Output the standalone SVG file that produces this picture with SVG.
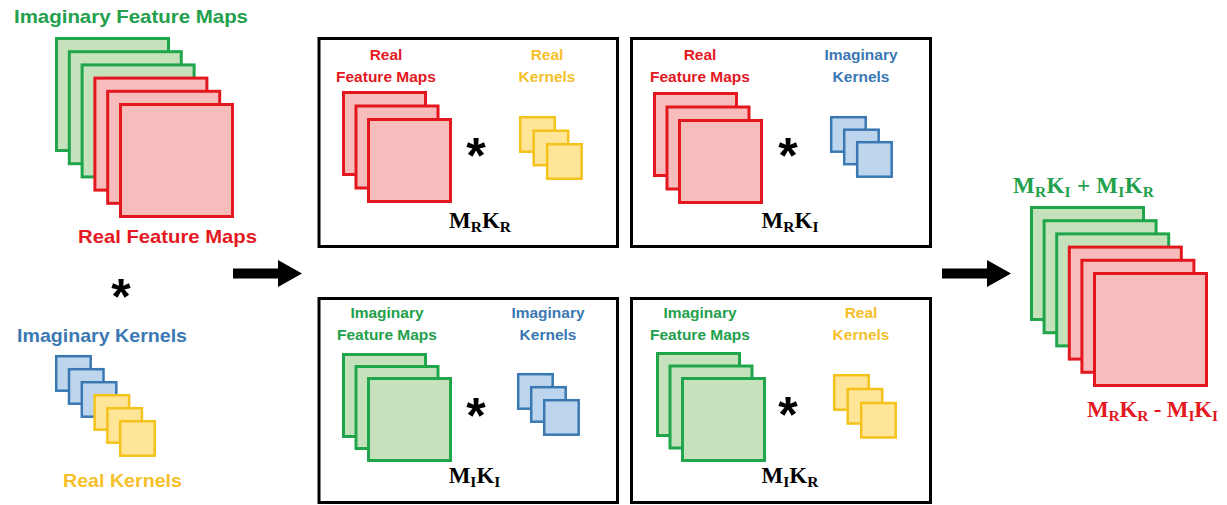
<svg xmlns="http://www.w3.org/2000/svg" width="1227" height="505" viewBox="0 0 1227 505">
<style>
.g{fill:#c5e2bc;stroke:#1fa64b;stroke-width:3}
.r{fill:#f9bcbc;stroke:#e3171e;stroke-width:3}
.b{fill:#bdd6ee;stroke:#3a78b4;stroke-width:2.5}
.y{fill:#ffe597;stroke:#f5c21c;stroke-width:2.5}
.box{fill:#fff;stroke:#000;stroke-width:3}
.lbl{font-family:"Liberation Sans",Arial,sans-serif;font-weight:bold}
.tg{fill:#22a04b}.tr{fill:#e3191f}.tb{fill:#3b78b3}.ty{fill:#f5c02a}
.m{font-family:"Liberation Serif","Times New Roman",serif;font-weight:bold;font-size:23px}
.sub{font-size:15.5px}
.ast{font-family:"Liberation Sans",Arial,sans-serif;font-weight:bold;fill:#000}
.arr{fill:#000}
</style>
<rect width="1227" height="505" fill="#fff"/>

<g id="input-feature-maps">
<text class="lbl tg" x="14" y="23" font-size="19" textLength="234" lengthAdjust="spacingAndGlyphs">Imaginary Feature Maps</text>
<rect class="g" x="56.5" y="38.5" width="112" height="112"/>
<rect class="g" x="69.3" y="51.7" width="112" height="112"/>
<rect class="g" x="82.1" y="64.9" width="112" height="112"/>
<rect class="r" x="94.9" y="78.1" width="112" height="112"/>
<rect class="r" x="107.7" y="91.3" width="112" height="112"/>
<rect class="r" x="120.5" y="104.5" width="112" height="112"/>
<text class="lbl tr" x="78" y="243" font-size="19" textLength="179" lengthAdjust="spacingAndGlyphs">Real Feature Maps</text>
</g>

<g id="input-asterisk">
<text class="ast" x="121" y="314" font-size="50" text-anchor="middle">*</text>
</g>

<g id="input-kernels">
<text class="lbl tb" x="17" y="342" font-size="19" textLength="170" lengthAdjust="spacingAndGlyphs">Imaginary Kernels</text>
<rect class="b" x="56.2" y="356.2" width="34.5" height="34.5"/>
<rect class="b" x="69" y="369.2" width="34.5" height="34.5"/>
<rect class="b" x="81.8" y="382.2" width="34.5" height="34.5"/>
<rect class="y" x="94.6" y="395.2" width="34.5" height="34.5"/>
<rect class="y" x="107.4" y="408.2" width="34.5" height="34.5"/>
<rect class="y" x="120.2" y="421.2" width="34.5" height="34.5"/>
<text class="lbl ty" x="63" y="487" font-size="19" textLength="119" lengthAdjust="spacingAndGlyphs">Real Kernels</text>
</g>

<g id="box-MRKR">
<rect class="box" x="319" y="38.5" width="298.5" height="208"/>
<text class="lbl tr" font-size="15.5" text-anchor="middle"><tspan x="386" y="60">Real</tspan><tspan x="386" y="82">Feature Maps</tspan></text>
<text class="lbl ty" font-size="15.5" text-anchor="middle"><tspan x="547" y="60">Real</tspan><tspan x="547" y="82">Kernels</tspan></text>
<rect class="r" x="343.5" y="92.5" width="82" height="82"/>
<rect class="r" x="356" y="106" width="82" height="82"/>
<rect class="r" x="368.5" y="119.5" width="82" height="82"/>
<text class="ast" x="476" y="173" font-size="50" text-anchor="middle">*</text>
<rect class="y" x="520.2" y="117.2" width="34.5" height="34.5"/>
<rect class="y" x="533.7" y="130.7" width="34.5" height="34.5"/>
<rect class="y" x="547.2" y="144.2" width="34.5" height="34.5"/>
<text class="m" x="480" y="228" text-anchor="middle">M<tspan class="sub" dy="4">R</tspan><tspan dy="-4">K</tspan><tspan class="sub" dy="4">R</tspan></text>
</g>

<g id="box-MRKI">
<rect class="box" x="631.5" y="38.5" width="299" height="208"/>
<text class="lbl tr" font-size="15.5" text-anchor="middle"><tspan x="700" y="60">Real</tspan><tspan x="700" y="82">Feature Maps</tspan></text>
<text class="lbl tb" font-size="15.5" text-anchor="middle"><tspan x="861" y="60">Imaginary</tspan><tspan x="861" y="82">Kernels</tspan></text>
<rect class="r" x="654.5" y="93.5" width="82" height="82"/>
<rect class="r" x="667" y="107" width="82" height="82"/>
<rect class="r" x="679.5" y="120.5" width="82" height="82"/>
<text class="ast" x="788" y="173" font-size="50" text-anchor="middle">*</text>
<rect class="b" x="831.2" y="117.2" width="34.5" height="34.5"/>
<rect class="b" x="844.2" y="129.7" width="34.5" height="34.5"/>
<rect class="b" x="857.2" y="142.2" width="34.5" height="34.5"/>
<text class="m" x="790" y="228" text-anchor="middle">M<tspan class="sub" dy="4">R</tspan><tspan dy="-4">K</tspan><tspan class="sub" dy="4">I</tspan></text>
</g>

<g id="box-MIKI">
<rect class="box" x="319" y="298.5" width="298.5" height="204"/>
<text class="lbl tg" font-size="15.5" text-anchor="middle"><tspan x="387" y="318">Imaginary</tspan><tspan x="387" y="340">Feature Maps</tspan></text>
<text class="lbl tb" font-size="15.5" text-anchor="middle"><tspan x="548" y="318">Imaginary</tspan><tspan x="548" y="340">Kernels</tspan></text>
<rect class="g" x="343.5" y="354.5" width="82" height="82"/>
<rect class="g" x="356" y="366.5" width="82" height="82"/>
<rect class="g" x="368.5" y="378.5" width="82" height="82"/>
<text class="ast" x="476" y="433" font-size="50" text-anchor="middle">*</text>
<rect class="b" x="518.2" y="374.2" width="34.5" height="34.5"/>
<rect class="b" x="531.2" y="387.2" width="34.5" height="34.5"/>
<rect class="b" x="544.2" y="400.2" width="34.5" height="34.5"/>
<text class="m" x="474.5" y="483" text-anchor="middle">M<tspan class="sub" dy="4">I</tspan><tspan dy="-4">K</tspan><tspan class="sub" dy="4">I</tspan></text>
</g>

<g id="box-MIKR">
<rect class="box" x="631.5" y="298.5" width="299" height="204"/>
<text class="lbl tg" font-size="15.5" text-anchor="middle"><tspan x="700" y="318">Imaginary</tspan><tspan x="700" y="340">Feature Maps</tspan></text>
<text class="lbl ty" font-size="15.5" text-anchor="middle"><tspan x="861" y="318">Real</tspan><tspan x="861" y="340">Kernels</tspan></text>
<rect class="g" x="657.5" y="353.5" width="82" height="82"/>
<rect class="g" x="670" y="366" width="82" height="82"/>
<rect class="g" x="682.5" y="378.5" width="82" height="82"/>
<text class="ast" x="788" y="432" font-size="50" text-anchor="middle">*</text>
<rect class="y" x="834.2" y="375.2" width="34.5" height="34.5"/>
<rect class="y" x="847.7" y="389" width="34.5" height="34.5"/>
<rect class="y" x="861.2" y="403" width="34.5" height="34.5"/>
<text class="m" x="790" y="483" text-anchor="middle">M<tspan class="sub" dy="4">I</tspan><tspan dy="-4">K</tspan><tspan class="sub" dy="4">R</tspan></text>
</g>

<g id="output-feature-maps">
<text class="m tg" x="1013" y="193" textLength="141">M<tspan class="sub" dy="4">R</tspan><tspan dy="-4">K</tspan><tspan class="sub" dy="4">I</tspan><tspan dy="-4"> + M</tspan><tspan class="sub" dy="4">I</tspan><tspan dy="-4">K</tspan><tspan class="sub" dy="4">R</tspan></text>
<rect class="g" x="1031.5" y="207.5" width="112" height="112"/>
<rect class="g" x="1044.1" y="220.7" width="112" height="112"/>
<rect class="g" x="1056.7" y="233.9" width="112" height="112"/>
<rect class="r" x="1069.3" y="247.1" width="112" height="112"/>
<rect class="r" x="1081.9" y="260.3" width="112" height="112"/>
<rect class="r" x="1094.5" y="273.5" width="112" height="112"/>
<text class="m tr" x="1087" y="417" textLength="131">M<tspan class="sub" dy="4">R</tspan><tspan dy="-4">K</tspan><tspan class="sub" dy="4">R</tspan><tspan dy="-4"> - M</tspan><tspan class="sub" dy="4">I</tspan><tspan dy="-4">K</tspan><tspan class="sub" dy="4">I</tspan></text>
</g>

<g id="connectors">
<polygon class="arr" points="233,268.5 278,268.5 278,260 302,273.5 278,287 278,278.5 233,278.5"/>
<polygon class="arr" points="942,268.5 987,268.5 987,260 1011,273.5 987,287 987,278.5 942,278.5"/>
</g>
</svg>
